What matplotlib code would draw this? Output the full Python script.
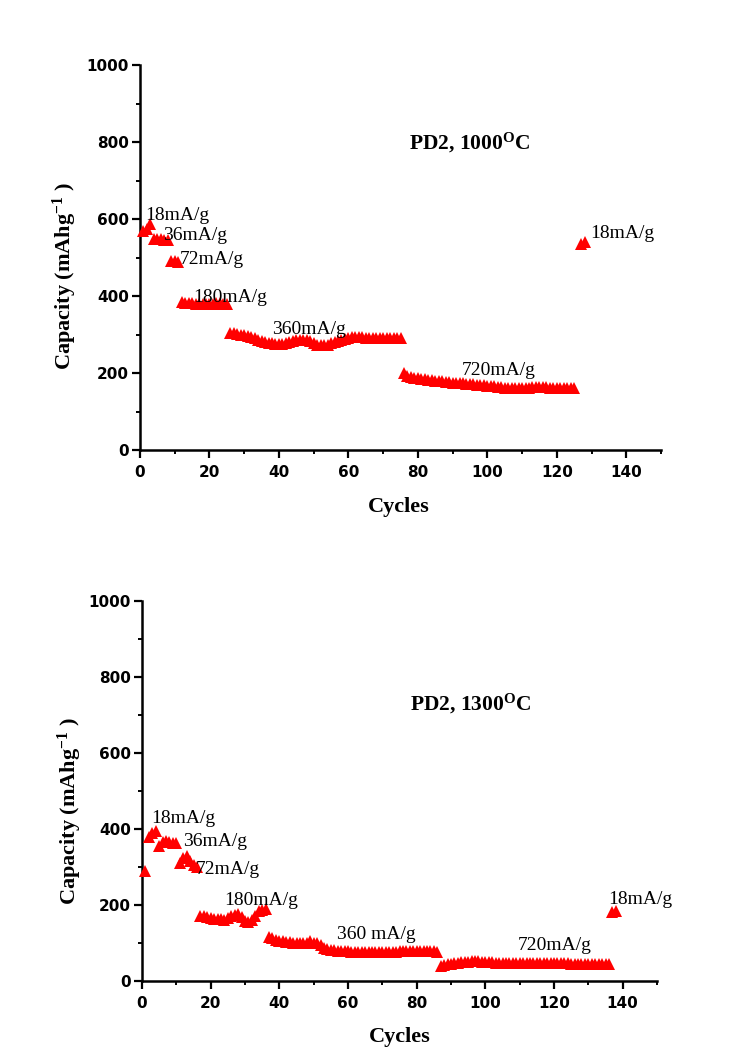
import numpy as np
import matplotlib
matplotlib.use("Agg")
import matplotlib.pyplot as plt
from matplotlib.ticker import MultipleLocator

plt.rcParams['mathtext.fontset'] = 'custom'
plt.rcParams['mathtext.rm'] = 'Liberation Serif'
plt.rcParams['mathtext.bf'] = 'Liberation Serif:bold'
plt.rcParams['mathtext.it'] = 'Liberation Serif:italic'

# ---- PD2 carbonised at 1000 C : capacity (mAh/g) per rate step ----
t1000_18a_start, t1000_18a = 1, [568, 574, 588]
t1000_36_start, t1000_36 = 4, [549, 548, 547, 546, 545]
t1000_72_start, t1000_72 = 9, [492, 490, 489]
t1000_180_start, t1000_180 = 12, [385, 383, 382, 381, 380, 380, 379, 379, 380, 380,
                                  381, 381, 380, 378]
t1000_360_start, t1000_360 = 26, [305, 303, 301, 300, 298, 296, 293, 290, 287, 284,
                                  281, 279, 277, 276, 275, 276, 278, 281, 283, 285,
                                  286, 286, 285, 282, 278, 274, 272, 272, 274, 277,
                                  280, 283, 286, 289, 291, 293, 294, 294, 293, 291,
                                  290, 290, 290, 290, 290, 290, 290, 290, 291, 292]
t1000_720_start, t1000_720 = 76, [200, 193, 190, 188, 187, 185, 184, 183, 182, 180,
                                  179, 178, 177, 176, 175, 175, 174, 173, 172, 171,
                                  171, 170, 169, 168, 167, 166, 165, 164, 163, 162,
                                  162, 161, 161, 161, 161, 162, 162, 163, 164, 164,
                                  164, 163, 162, 162, 162, 162, 162, 161, 161, 160]
t1000_18b_start, t1000_18b = 127, [535, 541]

# ---- PD2 carbonised at 1300 C ----
t1300_18a_start, t1300_18a = 1, [290, 378, 390, 395]
t1300_36_start, t1300_36 = 5, [355, 365, 368, 366, 364, 363]
t1300_72_start, t1300_72 = 11, [310, 325, 330, 315, 305, 300]
t1300_180_start, t1300_180 = 17, [172, 170, 168, 166, 164, 163, 162, 161, 165, 170,
                                  175, 176, 168, 158, 156, 160, 172, 183, 188, 190]
t1300_360_start, t1300_360 = 37, [115, 112, 109, 106, 104, 103, 102, 101, 101, 101,
                                  101, 100, 104, 101, 99, 95, 88, 84, 82, 81,
                                  80, 79, 78, 78, 77, 77, 76, 76, 76, 76,
                                  76, 77, 77, 77, 77, 77, 77, 77, 78, 78,
                                  78, 78, 78, 78, 78, 78, 78, 78, 78, 76]
t1300_720_start, t1300_720 = 87, [40, 43, 45, 46, 47, 48, 49, 50, 51, 52,
                                  52, 52, 51, 50, 49, 49, 48, 48, 48, 48,
                                  48, 48, 48, 48, 48, 48, 47, 47, 47, 47,
                                  47, 47, 47, 47, 47, 47, 47, 47, 46, 46,
                                  46, 46, 46, 46, 46, 46, 45, 45, 45, 44]
t1300_18b_start, t1300_18b = 137, [182, 184]

segments_1000 = [(t1000_18a_start, t1000_18a), (t1000_36_start, t1000_36),
                 (t1000_72_start, t1000_72), (t1000_180_start, t1000_180),
                 (t1000_360_start, t1000_360), (t1000_720_start, t1000_720),
                 (t1000_18b_start, t1000_18b)]
segments_1300 = [(t1300_18a_start, t1300_18a), (t1300_36_start, t1300_36),
                 (t1300_72_start, t1300_72), (t1300_180_start, t1300_180),
                 (t1300_360_start, t1300_360), (t1300_720_start, t1300_720),
                 (t1300_18b_start, t1300_18b)]

# rate labels: (text, cycle, capacity)
labels_1000 = [("18mA/g", 1.4, 608), ("36mA/g", 6.6, 556), ("72mA/g", 11.5, 495),
               ("180mA/g", 15.2, 396), ("360mA/g", 38, 312), ("720mA/g", 92.7, 206),
               ("18mA/g", 129.7, 563)]
labels_1300 = [("18mA/g", 2.8, 427), ("36mA/g", 12, 366), ("72mA/g", 15.7, 293),
               ("180mA/g", 24, 212), ("360 mA/g", 56.8, 122), ("720mA/g", 109.5, 94),
               ("18mA/g", 135.7, 214)]

titles = [(r"PD2, 1000$^{\mathbf{O}}$C", 77.5, 797), (r"PD2, 1300$^{\mathbf{O}}$C", 78, 730)]

fig = plt.figure(figsize=(7.54, 10.59), dpi=100)
ax_top = fig.add_axes([140 / 754, 1 - 450 / 1059, 521 / 754, 385 / 1059])
ax_bot = fig.add_axes([142 / 754, 1 - 981 / 1059, 515 / 754, 380 / 1059])

serif = 'Liberation Serif'

for ax, segs, labs, (ttl, tx, ty) in [(ax_top, segments_1000, labels_1000, titles[0]),
                                        (ax_bot, segments_1300, labels_1300, titles[1])]:
    for start, vals in segs:
        cyc = np.arange(start, start + len(vals))
        ax.plot(cyc, vals, linestyle='none', marker='^', markersize=8,
                color='#ff0000', markeredgewidth=0, clip_on=False, zorder=3)
    for text, x, y in labs:
        ax.text(x, y, text, family=serif, fontsize=14, ha='left', va='center', zorder=4)
    ax.text(tx, ty, ttl, family=serif, fontweight='bold', fontsize=15.5,
            ha='left', va='center')

    ax.set_xlim(0, 150)
    ax.set_ylim(0, 1000)
    ax.xaxis.set_major_locator(MultipleLocator(20))
    ax.xaxis.set_minor_locator(MultipleLocator(10))
    ax.yaxis.set_major_locator(MultipleLocator(200))
    ax.yaxis.set_minor_locator(MultipleLocator(100))
    for side in ('top', 'right'):
        ax.spines[side].set_visible(False)
    for side in ('left', 'bottom'):
        ax.spines[side].set_linewidth(1.8)
    ax.tick_params(which='major', direction='out', length=5.5, width=1.6)
    ax.tick_params(which='minor', direction='out', length=3, width=1.4)
    ax.tick_params(axis='y', which='major', pad=2.5)
    ax.tick_params(axis='x', which='major', pad=5)
    for lbl in ax.get_xticklabels() + ax.get_yticklabels():
        lbl.set_family('DejaVu Sans')
        lbl.set_fontweight('bold')
        lbl.set_fontsize(11)

    ax.set_xlabel("Cycles", family=serif, fontweight='bold', fontsize=16)
    ax.set_ylabel(r"Capacity (mAhg$^{\mathbf{-1}}$ )", family=serif,
                  fontweight='bold', fontsize=16)
    ax.xaxis.label.set_va('center')
    ax.yaxis.label.set_va('center')

ax_top.xaxis.set_label_coords(0.497, -0.148)
ax_top.yaxis.set_label_coords(-0.144, 0.452)
ax_bot.xaxis.set_label_coords(0.5, -0.147)
ax_bot.yaxis.set_label_coords(-0.14, 0.447)

fig.savefig("out.png", dpi=100, facecolor='white')
